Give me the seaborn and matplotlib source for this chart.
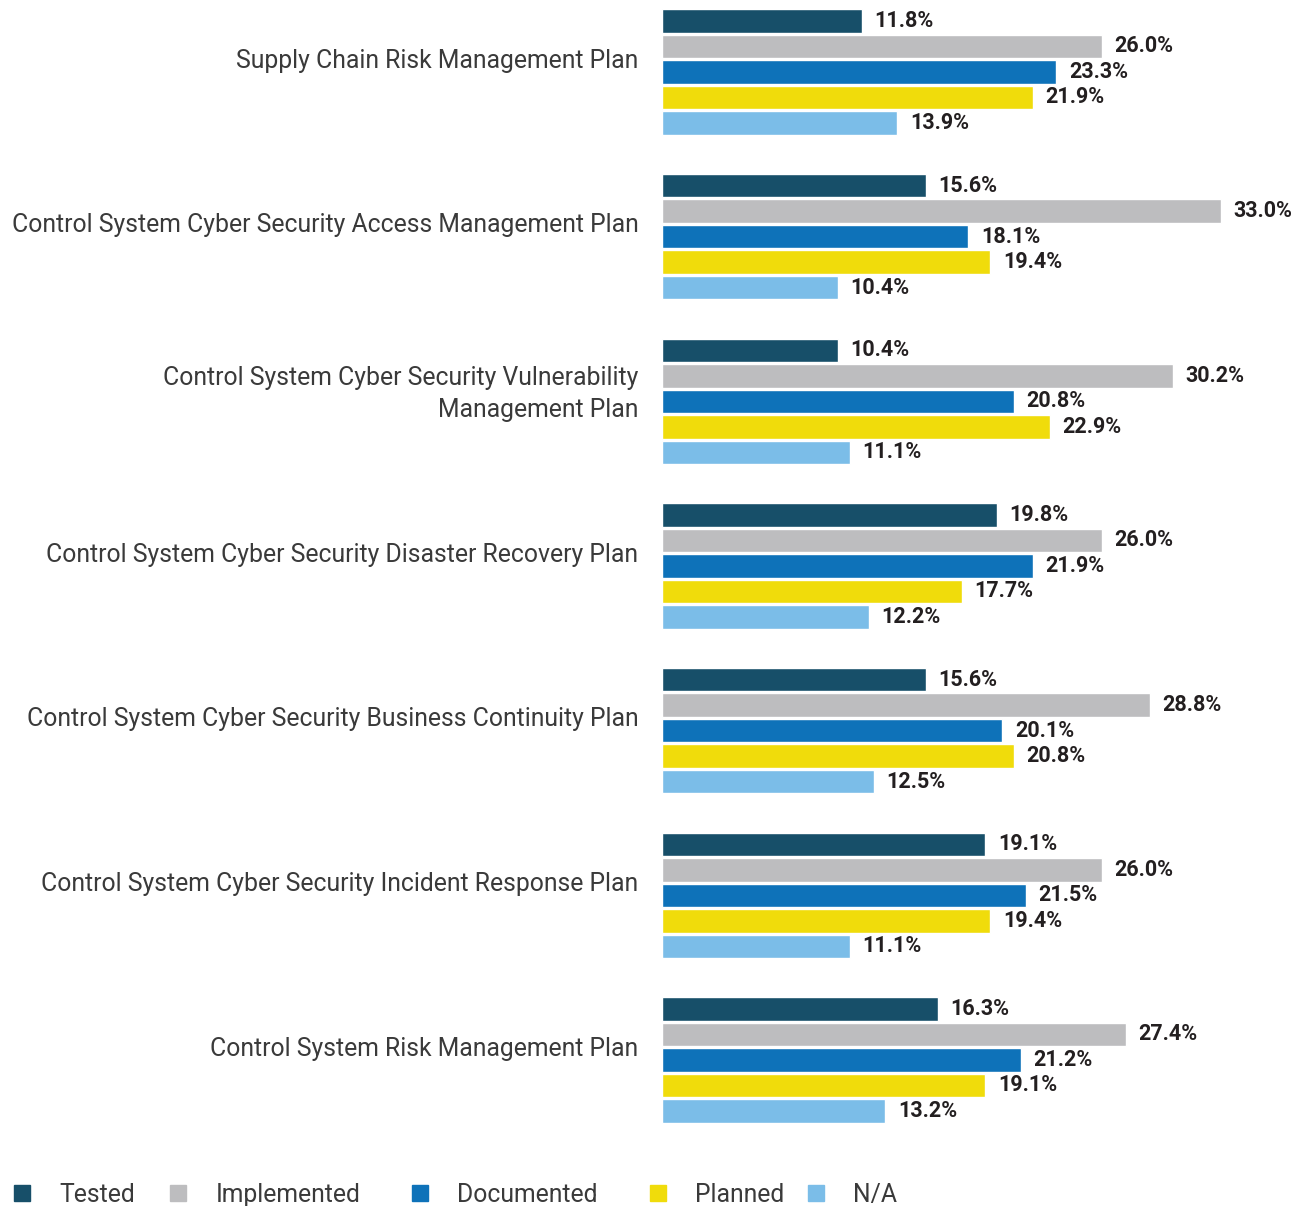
import matplotlib
matplotlib.use("Agg")
import matplotlib.pyplot as plt
import matplotlib.transforms as mtransforms
from matplotlib.lines import Line2D
import seaborn as sns
import pandas as pd

categories = [
    "Supply Chain Risk Management Plan",
    "Control System Cyber Security Access Management Plan",
    "Control System Cyber Security Vulnerability\nManagement Plan",
    "Control System Cyber Security Disaster Recovery Plan",
    "Control System Cyber Security Business Continuity Plan",
    "Control System Cyber Security Incident Response Plan",
    "Control System Risk Management Plan",
]
series_names = ["Tested", "Implemented", "Documented", "Planned", "N/A"]
tested = [11.8, 15.6, 10.4, 19.8, 15.6, 19.1, 16.3]
implemented = [26.0, 33.0, 30.2, 26.0, 28.8, 26.0, 27.4]
documented = [23.3, 18.1, 20.8, 21.9, 20.1, 21.5, 21.2]
planned = [21.9, 19.4, 22.9, 17.7, 20.8, 19.4, 19.1]
na = [13.9, 10.4, 11.1, 12.2, 12.5, 11.1, 13.2]
colors = ["#174f69", "#bdbdbf", "#0e72b9", "#f0dc0b", "#7bbde8"]

rows = []
for name, vals in zip(series_names, [tested, implemented, documented, planned, na]):
    for c, v in zip(categories, vals):
        rows.append({"category": c, "status": name, "value": v})
df = pd.DataFrame(rows)

sns.set_style("white")
plt.rcParams["font.family"] = ["Roboto", "DejaVu Sans"]

fig = plt.figure(figsize=(13.07, 12.06), dpi=100)
ax = fig.add_axes([662 / 1307, 1 - 1140 / 1206, 1 - 662 / 1307, 1140 / 1206])

sns.barplot(data=df, y="category", x="value", hue="status", orient="h",
            order=categories, hue_order=series_names, palette=colors,
            width=0.775, gap=0.08, saturation=1, legend=False, ax=ax)

for cont in ax.containers:
    ax.bar_label(cont, fmt="%.1f%%", padding=9, fontsize=15.5,
                 fontweight="bold", color="#231f20")

ax.set_xlim(0, 38.1)
ax.set_ylim(6.486, -0.437)
ax.set_xlabel("")
ax.set_ylabel("")
ax.set_xticks([])
for s in ax.spines.values():
    s.set_visible(False)
ax.tick_params(axis="y", length=0, pad=17)
offset = mtransforms.ScaledTranslation(0, 10 / 72, fig.dpi_scale_trans)
for lbl in ax.get_yticklabels():
    lbl.set_fontsize(17.8)
    lbl.set_fontweight("normal")
    lbl.set_color("#3a3a3a")
    lbl.set_multialignment("right")
    lbl.set_linespacing(1.45)
    lbl.set_transform(lbl.get_transform() + offset)

# legend entries placed individually
legend_x = [10 / 1307, 166 / 1307, 408 / 1307, 646 / 1307, 804 / 1307]
for name, col, lx in zip(series_names, colors, legend_x):
    h = Line2D([], [], marker="s", linestyle="none", markersize=11,
               markerfacecolor=col, markeredgecolor=col)
    leg = fig.legend([h], [name], loc="center left",
                     bbox_to_anchor=(lx, 1 - 1195 / 1206), frameon=False,
                     handletextpad=1.0, handlelength=1.0, borderpad=0,
                     borderaxespad=0,
                     prop={"size": 17.8, "weight": "normal", "family": ["Roboto", "DejaVu Sans"]})
    for t in leg.get_texts():
        t.set_color("#3a3a3a")

fig.savefig("out.png", dpi=100)
